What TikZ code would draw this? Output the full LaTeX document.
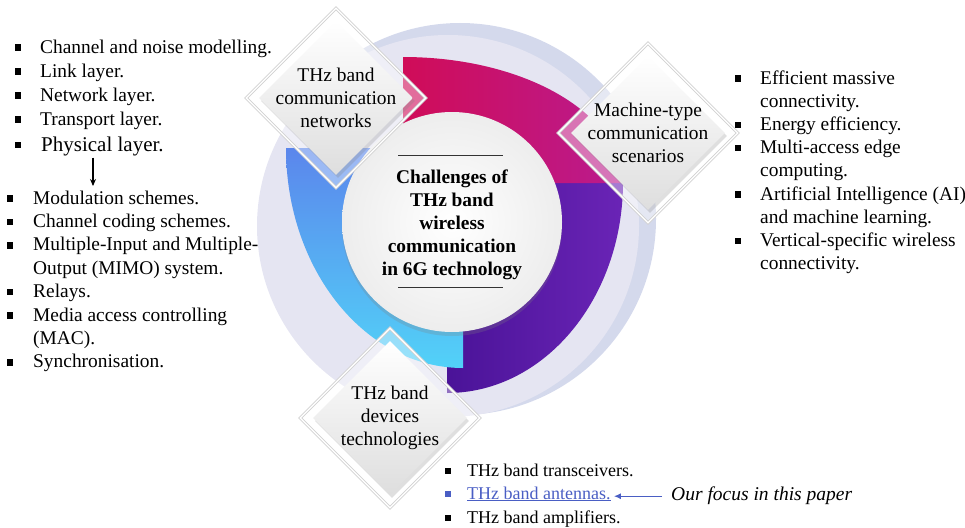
\documentclass[tikz,border=0pt]{standalone}
\usepackage{fontspec}
\setmainfont{Liberation Serif}
\usetikzlibrary{shapes.geometric,shadows,arrows.meta}

\definecolor{halo}{HTML}{E5E5F2}
\definecolor{halodark}{HTML}{D4D9EC}
\definecolor{pinkA}{HTML}{D00C58}
\definecolor{pinkB}{HTML}{BA1B8E}
\definecolor{violetA}{HTML}{4A1398}
\definecolor{violetB}{HTML}{6A24B6}
\definecolor{blueA}{HTML}{5B86EC}
\definecolor{blueB}{HTML}{52D2F8}
\definecolor{focusblue}{HTML}{4A5EC4}

\newcommand{\listfont}{\fontsize{19.4}{23.3}\selectfont}
\newcommand{\bigfont}{\fontsize{21}{25}\selectfont}
\newcommand{\botfont}{\fontsize{18}{23}\selectfont}
\newcommand{\hubfont}{\fontsize{19.4}{23}\selectfont\bfseries}

\tikzset{
  item/.style={anchor=base west, inner sep=0pt, font=\listfont},
  sqb/.style={rectangle, fill=black, inner sep=0pt, minimum width=5.5pt, minimum height=6.5pt},
  dframe/.style={diamond, minimum size=180pt, inner sep=0pt, fill=white, fill opacity=0.4,
    draw=gray!35, double=white, double distance=1.2pt, line width=0.9pt},
  dface/.style={diamond, minimum size=154pt, inner sep=0pt, top color=white, bottom color=black!13,
    drop shadow={opacity=0.25, shadow xshift=2pt, shadow yshift=-3pt}},
  dlabel/.style={align=center, font=\listfont, inner sep=0pt}
}

\begin{document}
\begin{tikzpicture}[x=1pt,y=-1pt]
  \useasboundingbox (0,0) rectangle (965,527);

  \fill[halodark] (460,219) circle (196);
  \fill[halo] (448,226) circle (191);

  \shade[left color=violetA, right color=violetB]
    (447,182) -- (623,182) arc[start angle=0, end angle=90, x radius=176, y radius=211] -- cycle;
  \shade[top color=blueA, bottom color=blueB]
    (463,148) -- (463,368) arc[start angle=90, end angle=180, x radius=177, y radius=220] -- cycle;
  \shade[left color=pinkA, right color=pinkB]
    (403,183) -- (403,57) arc[start angle=-90, end angle=0, x radius=219, y radius=126] -- cycle;

  \node[circle, minimum size=220pt, inner sep=0pt, inner color=white, outer color=gray!14,
    drop shadow={opacity=0.25, shadow xshift=0pt, shadow yshift=-4pt}] (hub) at (452,222) {};
  \node[font=\hubfont, align=center] (title) at (452,225)
    {Challenges of\\THz band\\wireless\\communication\\in 6G technology};
  \draw[gray!40!black, line width=1pt] ([shift={(-54,-67)}]hub.center) -- ++(105,0);
  \draw[gray!40!black, line width=1pt] ([shift={(-54,65)}]hub.center) -- ++(105,0);

  \foreach \n/\x/\y/\t in {nets/336/98/{THz band\\communication\\networks},
                          mtc/648/133/{Machine-type\\communication\\scenarios},
                          dev/390/418/{THz band\\devices\\technologies}} {
    \node[dframe] (\n-frame) at (\x,\y) {};
    \node[dface] (\n) at (\x,\y) {};
    \node[dlabel] (\n-text) at (\x,\y) {\t};
  }

  \foreach \t [count=\i] in {Channel and noise modelling., Link layer., Network layer., Transport layer.} {
    \node[item] (lay\i) at (40,{53+24*(\i-1)}) {\t};
    \node[sqb] (layb\i) at ([xshift=-22pt,yshift=5.5pt]lay\i.base west) {};
  }
  \node[item, font=\bigfont] (phys) at (41,151) {Physical layer.};
  \node[sqb] (physb) at ([xshift=-23pt,yshift=6pt]phys.base west) {};
  \coordinate (arrtip) at (93,186);
  \draw[-{Stealth[length=7pt,width=6pt]}, line width=1.1pt] ([yshift=-2pt]phys.south -| arrtip) -- (arrtip);

  \foreach \b/\t [count=\i] in {1/Modulation schemes., 1/Channel coding schemes.,
      1/Multiple-Input and Multiple-, 0/Output (MIMO) system., 1/Relays.,
      1/Media access controlling, 0/(MAC)., 1/Synchronisation.} {
    \node[item] (phy\i) at (33,{204+23.4*(\i-1)}) {\t};
    \ifnum\b=1 \node[sqb] (phyb\i) at ([xshift=-23pt,yshift=5.5pt]phy\i.base west) {}; \fi
  }

  \foreach \b/\t [count=\i] in {1/Efficient massive, 0/connectivity., 1/Energy efficiency.,
      1/Multi-access edge, 0/computing., 1/Artificial Intelligence (AI),
      0/and machine learning., 1/Vertical-specific wireless, 0/connectivity.} {
    \node[item] (mt\i) at (760,{84+23.2*(\i-1)}) {\t};
    \ifnum\b=1 \node[sqb] (mtb\i) at ([xshift=-22pt,yshift=5.5pt]mt\i.base west) {}; \fi
  }

  \node[item, font=\botfont] (trx) at (467,476) {THz band transceivers.};
  \node[item, font=\botfont, text=focusblue] (ant) at (467,499) {\underline{THz band antennas.}};
  \node[item, font=\botfont] (amp) at (467,523) {THz band amplifiers.};
  \node[sqb] (trxb) at ([xshift=-19pt,yshift=5pt]trx.base west) {};
  \node[sqb, fill=focusblue] (antb) at ([xshift=-19pt,yshift=5pt]ant.base west) {};
  \node[sqb] (ampb) at ([xshift=-19pt,yshift=5pt]amp.base west) {};
  \node[item, font=\fontsize{19.5}{24}\selectfont\itshape] (focus) at (671,500) {Our focus in this paper};
  \draw[focusblue, line width=1.3pt, -{Latex[length=7pt,width=6pt]}]
    ([xshift=-9pt,yshift=-1pt]focus.west) -- ([xshift=3pt,yshift=-1pt]focus.west -| ant.east);
\end{tikzpicture}
\end{document}
